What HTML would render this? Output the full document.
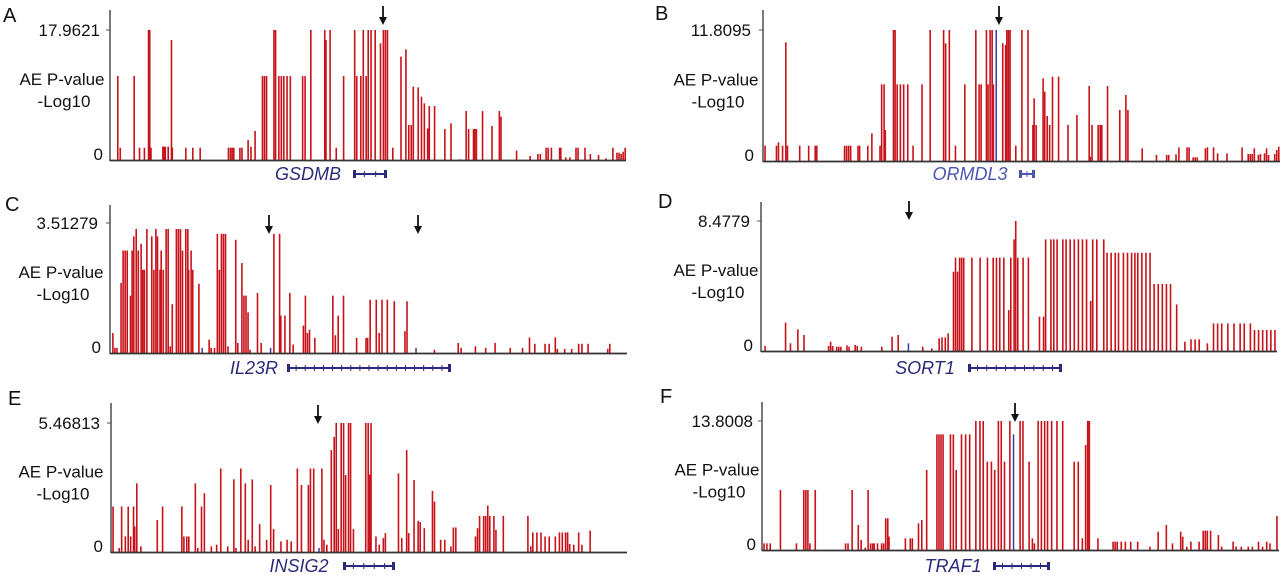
<!DOCTYPE html>
<html>
<head>
<meta charset="utf-8">
<style>
html,body{margin:0;padding:0;background:#fff;}
body{width:1280px;height:575px;overflow:hidden;font-family:"Liberation Sans",Arial,sans-serif;}
svg text{font-family:"Liberation Sans",Arial,sans-serif;}
</style>
</head>
<body>
<svg id="fig" width="1280" height="575" viewBox="0 0 1280 575" xmlns="http://www.w3.org/2000/svg"></svg>
<script>
// ---------- DATA (positions in kb offset within window, values in -log10 AE p-value) ----------
const panelLetters = ["A","B","C","D","E","F"];
const geneNames = ["GSDMB","ORMDL3","IL23R","SORT1","INSIG2","TRAF1"];
const maxTickLabels = ["17.9621","11.8095","3.51279","8.4779","5.46813","13.8008"];
const maxValues = [17.9621,11.8095,3.51279,8.4779,5.46813,13.8008];
const windowSizes = [1259,1268,1262,1260,1260,1262];

const aPos = [19,25,59,72,84,94,97,100,129,132,135,142,150,152,185,202,220,289,294,298,302,317,322,337,344,354,372,377,382,400,404,412,418,424,432,440,470,476,490,524,527,537,552,570,597,602,612,618,625,630,637,647,660,667,672,677,690,710,722,729,735,740,752,760,767,775,779,792,817,832,854,869,875,887,890,894,909,932,950,954,992,1025,1044,1050,1064,1069,1077,1097,1100,1112,1122,1137,1142,1159,1172,1192,1210,1227,1237,1242,1247,1252,1257];
const aVal = [11.60,1.70,11.60,1.70,1.70,17.96,17.96,1.70,1.84,1.84,1.84,1.84,16.58,1.70,1.70,1.70,1.70,1.70,1.70,1.70,1.70,1.70,1.70,2.76,1.84,4.01,11.60,11.60,11.60,17.96,17.96,11.60,11.60,11.60,11.60,11.60,11.60,11.60,17.96,17.96,16.58,17.96,1.70,11.60,17.96,11.60,11.60,17.96,11.60,17.96,17.96,17.96,16.12,17.96,17.96,17.96,1.70,14.28,15.29,4.84,4.84,10.13,10.04,8.75,7.83,4.37,7.46,7.46,4.28,5.07,0.09,6.77,4.28,4.28,4.28,4.28,6.77,4.70,6.77,5.99,1.29,0.55,0.83,0.83,1.70,1.70,1.70,1.70,1.70,0.37,0.37,1.70,1.70,1.70,0.83,0.69,0.23,1.70,1.01,1.01,0.83,1.15,1.70];
const aBluePos = [];
const aBlueVal = [];

const bPos = [5,33,38,48,56,60,90,112,128,132,200,205,210,215,233,237,257,267,287,291,297,300,320,324,329,337,345,355,368,390,410,443,448,457,472,495,522,530,535,548,552,557,562,565,588,595,598,602,606,620,635,650,662,665,670,687,691,697,703,710,725,748,770,800,803,807,822,827,831,845,875,890,895,930,965,990,995,1013,1020,1040,1045,1055,1060,1065,1085,1090,1105,1115,1138,1175,1190,1195,1200,1205,1215,1220,1230,1235,1240,1255,1260,1265];
const bVal = [1.38,1.38,1.68,1.38,10.70,1.38,1.38,1.38,1.38,1.38,1.38,1.38,1.38,1.38,1.38,1.38,1.38,2.49,1.38,6.91,6.91,2.79,11.81,11.81,6.91,6.91,6.91,6.91,1.38,6.91,11.81,11.81,10.61,11.81,1.38,6.91,11.81,6.91,6.91,11.81,6.91,11.81,11.81,6.91,10.61,10.46,11.81,11.81,11.81,1.38,11.81,11.81,3.25,5.65,3.25,7.45,6.25,4.06,3.25,7.60,7.60,3.25,4.15,6.76,0.39,3.25,3.25,3.25,3.25,6.76,4.60,5.95,4.60,1.14,0.54,0.54,0.54,0.60,1.23,1.23,1.23,0.33,0.33,0.33,1.14,1.23,1.23,0.69,0.69,1.23,0.63,0.63,0.63,1.14,0.54,0.63,0.69,1.14,0.54,0.63,0.99,1.29];
const bBluePos = [572];
const bBlueVal = [11.81];

const cPos = [7,12,17,27,32,37,42,50,54,58,64,69,76,80,84,90,102,107,112,116,122,125,130,137,142,147,152,162,167,172,177,185,190,192,198,202,217,242,247,255,262,267,272,277,282,288,307,312,322,327,332,337,342,360,369,400,414,417,427,439,447,472,477,482,487,500,544,550,557,570,602,625,629,635,650,657,664,677,694,720,725,792,850,857,892,917,940,977,1007,1024,1037,1062,1072,1087,1092,1110,1127,1144,1152,1167,1215,1220];
const cVal = [0.54,0.14,0.14,1.89,2.77,2.77,2.77,1.55,2.77,3.15,3.35,2.77,2.95,2.25,2.25,3.35,3.15,2.25,3.35,3.15,2.25,2.77,2.25,3.35,3.35,0.18,1.32,3.35,3.35,3.35,2.77,3.35,3.35,2.25,2.77,2.25,1.87,0.36,0.14,0.14,3.22,2.25,3.22,3.22,3.22,0.18,3.06,0.27,2.43,1.55,1.55,1.10,0.09,1.62,0.27,3.22,3.22,1.01,1.01,1.62,0.23,0.74,1.55,0.54,0.63,0.41,1.55,0.48,1.01,1.55,0.41,0.41,0.41,1.44,1.44,0.54,1.44,1.44,1.40,0.59,1.40,0.09,0.27,0.14,0.18,0.14,0.27,0.14,0.14,0.42,0.25,0.25,0.25,0.42,0.11,0.11,0.11,0.25,0.25,0.25,0.11,0.25];
const cBluePos = [225,392,747];
const cBlueVal = [0.14,0.14,0.14];

const dPos = [10,60,72,90,105,165,170,175,185,190,195,210,215,230,235,245,295,320,335,395,417,435,442,450,457,470,475,480,485,490,495,515,535,553,567,575,583,593,605,610,618,622,627,640,653,680,690,695,708,715,723,737,745,755,765,775,785,795,805,810,820,837,845,855,865,873,885,895,905,913,920,930,940,950,960,970,980,990,1000,1015,1035,1050,1060,1070,1090,1105,1115,1125,1140,1155,1170,1180,1195,1205,1215,1225,1235,1245,1255];
const dVal = [0.33,1.85,0.50,1.41,1.04,0.33,0.61,0.33,0.28,0.28,0.28,0.37,0.28,0.39,0.33,0.28,0.28,0.93,1.04,0.28,0.17,0.83,0.89,0.89,1.15,5.17,6.09,5.17,6.09,6.09,6.09,6.09,6.09,6.09,6.09,6.09,6.09,6.09,2.67,6.09,7.28,8.48,6.09,6.09,6.09,2.24,2.24,7.28,7.28,7.28,7.28,7.28,7.28,7.28,7.28,7.28,7.28,7.28,3.26,7.28,7.28,7.28,6.41,6.41,6.41,6.41,6.41,6.41,6.41,6.41,6.41,6.41,6.41,6.41,4.37,4.37,4.37,4.37,4.37,3.04,0.61,0.76,0.76,0.76,0.50,1.80,1.80,1.80,1.80,1.80,1.80,1.80,1.80,1.37,1.37,1.37,1.37,1.37,1.37];
const dBluePos = [360];
const dBlueVal = [0.50];

const ePos = [5,20,26,35,42,48,55,58,63,73,113,126,173,178,185,190,206,212,221,228,245,258,268,285,300,305,317,328,335,345,352,363,380,390,397,415,430,440,455,465,482,487,495,515,520,527,538,545,550,555,562,568,573,580,585,592,622,628,632,635,647,655,665,670,702,710,722,727,740,750,755,765,785,790,805,815,830,836,842,890,895,900,910,915,920,925,935,940,958,1018,1025,1030,1040,1050,1060,1070,1085,1095,1102,1110,1115,1120,1130,1142,1150,1170];
const eVal = [1.93,0.17,1.93,0.66,1.93,0.66,1.93,1.08,2.91,0.24,1.36,1.93,1.93,0.66,0.66,0.66,2.91,0.17,1.93,2.49,0.24,0.31,3.54,0.24,3.08,0.17,3.54,2.91,0.52,3.08,0.24,1.18,0.52,2.84,0.97,0.45,0.52,0.45,3.54,2.84,2.84,3.54,3.54,3.54,0.52,0.31,4.32,4.88,5.47,0.97,5.47,5.47,3.26,5.47,5.47,0.97,5.47,5.47,3.29,5.47,0.66,0.31,0.59,0.80,3.33,0.59,4.32,0.80,3.05,1.32,1.27,1.01,2.59,2.14,0.52,0.52,0.24,1.04,1.04,0.66,1.01,1.53,1.53,1.53,1.97,1.53,1.53,0.94,1.53,1.53,0.24,0.83,0.83,0.83,0.66,0.66,0.66,0.83,0.83,0.83,0.83,0.34,0.31,0.83,0.31,0.91];
const eBluePos = [508];
const eBlueVal = [0.17];

const fPos = [5,12,20,45,84,102,107,112,117,130,204,210,220,235,242,252,259,265,270,274,282,292,297,302,307,310,350,362,367,382,390,402,427,432,437,442,460,467,474,487,497,507,522,532,540,550,560,568,577,584,592,605,630,637,652,660,665,674,682,690,697,707,720,734,762,772,782,790,795,799,820,857,862,867,877,887,900,917,947,967,987,1002,1022,1027,1037,1047,1067,1077,1082,1087,1095,1114,1122,1150,1157,1170,1187,1197,1212,1222,1232,1240,1257];
const fVal = [0.71,0.71,0.71,6.42,0.71,6.42,6.42,6.42,0.71,6.42,0.71,0.71,6.42,2.67,1.07,0.25,6.42,0.71,0.71,0.71,0.71,0.71,0.71,3.39,3.39,1.43,1.25,1.25,1.25,2.85,3.21,8.56,12.37,12.37,12.37,12.37,12.37,12.37,8.56,12.37,12.37,12.37,13.80,13.80,13.80,9.45,9.45,8.56,13.80,13.80,9.45,13.80,13.80,13.80,9.45,1.25,0.71,13.80,13.80,13.80,13.80,13.80,13.80,13.80,9.45,9.45,1.25,11.23,13.80,13.80,1.25,0.89,0.89,0.89,0.89,0.89,0.89,0.89,0.36,1.96,2.67,0.71,1.96,1.43,0.36,0.89,0.89,2.07,2.07,2.07,2.07,1.60,0.36,0.89,0.36,0.36,0.36,0.36,0.89,0.36,0.89,0.71,3.64];
const fBluePos = [614];
const fBlueVal = [12.37];

// ---------- LAYOUT (pixels) ----------
const layouts = [
 {x0:110,x1:626,base:160,top:30,axTop:10,letterX:3,letterY:22,labelX:62,tickX:100,arrows:[383],arrowTop:6,gene:{tx:308,ty:180,g0:353,g1:387,color:"#2a2a7c"}},
 {x0:763,x1:1280,base:161,top:30,axTop:10,letterX:655,letterY:20,labelX:716,tickX:751,arrows:[999],arrowTop:6,gene:{tx:970,ty:180,g0:1019,g1:1035,color:"#4a56b0"}},
 {x0:110,x1:627,base:353,top:223,axTop:205,letterX:5,letterY:211,labelX:61,tickX:98,arrows:[269,418],arrowTop:215,gene:{tx:254,ty:374,g0:287,g1:451,color:"#2a2a7c"}},
 {x0:761,x1:1277,base:351,top:221,axTop:202,letterX:658,letterY:208,labelX:716,tickX:750,arrows:[909],arrowTop:201,gene:{tx:925,ty:374,g0:968,g1:1062,color:"#2a2a7c"}},
 {x0:111,x1:627,base:552,top:423,axTop:403,letterX:8,letterY:405,labelX:61,tickX:100,arrows:[318],arrowTop:405,gene:{tx:299,ty:572,g0:343,g1:395,color:"#2a2a7c"}},
 {x0:762,x1:1279,base:550,top:421,axTop:402,letterX:660,letterY:403,labelX:717,tickX:753,arrows:[1015],arrowTop:403,gene:{tx:953,ty:572,g0:993,g1:1050,color:"#2a2a7c"}}
];
const posSets = [aPos,bPos,cPos,dPos,ePos,fPos];
const valSets = [aVal,bVal,cVal,dVal,eVal,fVal];
const bluePosSets = [aBluePos,bBluePos,cBluePos,dBluePos,eBluePos,fBluePos];
const blueValSets = [aBlueVal,bBlueVal,cBlueVal,dBlueVal,eBlueVal,fBlueVal];

const NS = "http://www.w3.org/2000/svg";
const svg = document.getElementById("fig");
function mk(tag, attrs, parent){
  const e = document.createElementNS(NS, tag);
  for (const k in attrs) e.setAttribute(k, attrs[k]);
  (parent||svg).appendChild(e);
  return e;
}

layouts.forEach((L, i) => {
  const letter = panelLetters[i].toLowerCase();
  const g = mk("g", {});
  
  
  const xScale = p => L.x0 + (p / windowSizes[i]) * (L.x1 - L.x0);
  const yScale = v => L.base - (v / maxValues[i]) * (L.base - L.top);

  const pl = mk("text", {x:L.letterX, y:L.letterY, "font-size":20, fill:"#111"}, g);
  pl.textContent = panelLetters[i];
  
  

  const bars = mk("g", {}, g);
  
  
  posSets[i].forEach((p, j) => {
    const x = xScale(p);
    const ln = mk("line", {x1:x, x2:x, y1:L.base, y2:yScale(valSets[i][j]), stroke:"#c8121a", "stroke-width":1.6}, bars);
    
    
  });
  bluePosSets[i].forEach((p, j) => {
    const x = xScale(p);
    const ln = mk("line", {x1:x, x2:x, y1:L.base, y2:yScale(blueValSets[i][j]), stroke:"#3a3aa8", "stroke-width":1.5}, bars);
    
    
  });

  const ya = mk("line", {x1:L.x0, x2:L.x0, y1:L.axTop, y2:L.base+1, stroke:"#333", "stroke-width":1.3}, g);
  
  
  const xa = mk("line", {x1:L.x0, x2:L.x1, y1:L.base+0.5, y2:L.base+0.5, stroke:"#333", "stroke-width":1.7}, g);
  
  
  const tk = mk("line", {x1:L.x0-4, x2:L.x0, y1:L.top, y2:L.top, stroke:"#555", "stroke-width":1}, g);
  
  

  const tMax = mk("text", {x:L.tickX, y:L.top+6, "font-size":17, "text-anchor":"end", fill:"#111"}, g);
  tMax.textContent = maxTickLabels[i];
  
  
  const t0 = mk("text", {x:L.tickX+3, y:L.base, "font-size":17, "text-anchor":"end", fill:"#111"}, g);
  t0.textContent = "0";
  
  

  const midY = (L.top + L.base)/2;
  const yl1 = mk("text", {x:L.labelX, y:midY-10, "font-size":17, "text-anchor":"middle", fill:"#111"}, g);
  yl1.textContent = "AE P-value";
  
  
  const yl2 = mk("text", {x:L.labelX+2, y:midY+12, "font-size":17, "text-anchor":"middle", fill:"#111"}, g);
  yl2.textContent = "-Log10";
  
  

  L.arrows.forEach(ax => {
    const ag = mk("g", {}, g);
    
    
    mk("line", {x1:ax, x2:ax, y1:L.arrowTop, y2:L.arrowTop+14, stroke:"#111", "stroke-width":1.8}, ag);
    mk("polygon", {points:`${ax-4},${L.arrowTop+11} ${ax+4},${L.arrowTop+11} ${ax},${L.arrowTop+19}`, fill:"#111"}, ag);
  });

  const G = L.gene;
  const gt = mk("text", {x:G.tx, y:G.ty, "font-size":18, "font-style":"italic", "text-anchor":"middle", fill:G.color}, g);
  gt.textContent = geneNames[i];
  
  
  const gg = mk("g", {}, g);
  
  
  const gy = G.ty - 6;
  mk("line", {x1:G.g0, x2:G.g1, y1:gy, y2:gy, stroke:G.color, "stroke-width":2}, gg);
  mk("rect", {x:G.g0, y:gy-4, width:3, height:8, fill:G.color}, gg);
  mk("rect", {x:G.g1-3, y:gy-4, width:3, height:8, fill:G.color}, gg);
  const n = Math.max(2, Math.floor((G.g1-G.g0)/9));
  for (let k=1;k<n;k++){
    const xx = G.g0 + k*(G.g1-G.g0)/n;
    mk("line", {x1:xx, x2:xx, y1:gy-3, y2:gy+3, stroke:G.color, "stroke-width":1}, gg);
  }
});
</script>
</body>
</html>
